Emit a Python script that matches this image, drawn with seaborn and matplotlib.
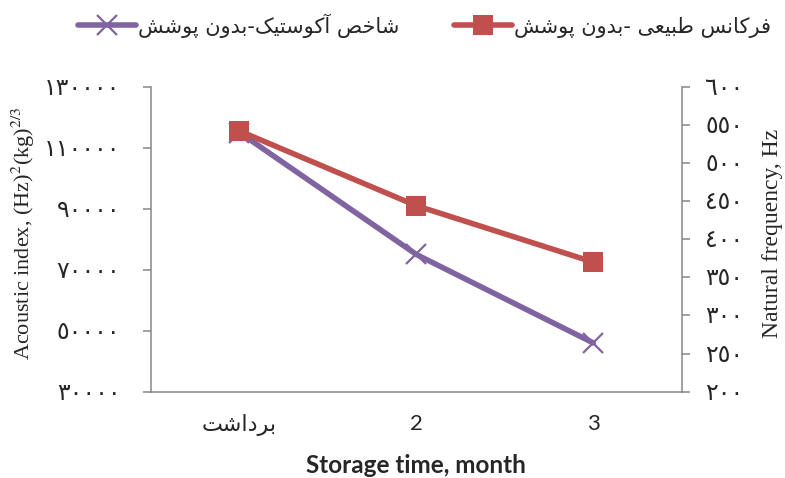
import matplotlib
matplotlib.use("Agg")
import matplotlib.pyplot as plt
from matplotlib.lines import Line2D
import numpy as np
import pandas as pd
import seaborn as sns

# ---- data -------------------------------------------------------------
time_labels = ["برداشت", "2", "3"]
acoustic_index = [115000, 75000, 46000]          # left axis
natural_freq = [542, 444, 370]                   # right axis, Hz
series_names = ["شاخص آکوستیک-بدون پوشش", "فرکانس طبیعی -بدون پوشش"]
left_ticks = [30000, 50000, 70000, 90000, 110000, 130000]
right_ticks = [200, 250, 300, 350, 400, 450, 500, 550, 600]

# ---- minimal Arabic/Persian shaping (matplotlib draws glyphs LTR, unshaped)
# (isolated, final, initial, medial); None = letter does not join forward
FORMS = {
    "ا": ("\uFE8D", "\uFE8E", None, None),
    "آ": ("\uFE81", "\uFE82", None, None),
    "ب": ("\uFE8F", "\uFE90", "\uFE91", "\uFE92"),
    "پ": ("\uFB56", "\uFB57", "\uFB58", "\uFB59"),
    "ت": ("\uFE95", "\uFE96", "\uFE97", "\uFE98"),
    "خ": ("\uFEA5", "\uFEA6", "\uFEA7", "\uFEA8"),
    "د": ("\uFEA9", "\uFEAA", None, None),
    "ر": ("\uFEAD", "\uFEAE", None, None),
    "س": ("\uFEB1", "\uFEB2", "\uFEB3", "\uFEB4"),
    "ش": ("\uFEB5", "\uFEB6", "\uFEB7", "\uFEB8"),
    "ص": ("\uFEB9", "\uFEBA", "\uFEBB", "\uFEBC"),
    "ط": ("\uFEC1", "\uFEC2", "\uFEC3", "\uFEC4"),
    "ع": ("\uFEC9", "\uFECA", "\uFECB", "\uFECC"),
    "ف": ("\uFED1", "\uFED2", "\uFED3", "\uFED4"),
    "ک": ("\uFB8E", "\uFB8F", "\uFB90", "\uFB91"),
    "ن": ("\uFEE5", "\uFEE6", "\uFEE7", "\uFEE8"),
    "و": ("\uFEED", "\uFEEE", None, None),
    "ی": ("\uFBFC", "\uFBFD", "\uFBFE", "\uFBFF"),
}


def shape_rtl(text):
    chars = list(text)
    out = []
    for i, c in enumerate(chars):
        if c not in FORMS:
            out.append(c)
            continue
        iso, fin, ini, med = FORMS[c]
        prev = chars[i - 1] if i > 0 else None
        nxt = chars[i + 1] if i + 1 < len(chars) else None
        join_prev = prev in FORMS and FORMS[prev][2] is not None
        join_next = nxt in FORMS and ini is not None
        if join_prev and join_next:
            out.append(med)
        elif join_prev:
            out.append(fin)
        elif join_next:
            out.append(ini)
        else:
            out.append(iso)
    return "".join(reversed(out))


def arabic_digits(v):
    return str(v).translate(str.maketrans("0123456789", "٠١٢٣٤٥٦٧٨٩"))


# ---- style ------------------------------------------------------------
sns.set_theme(style="white")
plt.rcParams["font.family"] = ["Liberation Serif", "DejaVu Sans"]
plt.rcParams["mathtext.fontset"] = "stix"

PURPLE = "#8064A2"
RED = "#C0504D"
GREY = "#868686"

df = pd.DataFrame({
    "pos": np.arange(len(time_labels)),
    "acoustic": acoustic_index,
    "freq": natural_freq,
})

fig = plt.figure(figsize=(7.85, 4.78), dpi=100)
ax = fig.add_axes([0.1924, 0.1805, 0.676, 0.638])
ax2 = ax.twinx()

sns.lineplot(data=df, x="pos", y="acoustic", ax=ax, color=PURPLE, lw=4.0,
             marker="x", markersize=14, markeredgewidth=1.6,
             markeredgecolor=PURPLE, legend=False)
sns.lineplot(data=df, x="pos", y="freq", ax=ax2, color=RED, lw=4.0,
             marker="s", markersize=14.5, markeredgewidth=0,
             legend=False)

# axes limits and ticks
ax.set_xlim(-0.5, len(time_labels) - 0.5)
ax.set_ylim(left_ticks[0], left_ticks[-1])
ax2.set_ylim(right_ticks[0], right_ticks[-1])

ax.set_xticks(np.arange(-0.5, len(time_labels)), labels=[""] * (len(time_labels) + 1))
ax.set_xticks(np.arange(len(time_labels)), minor=True)
ax.set_xticklabels([shape_rtl(time_labels[0])] + time_labels[1:], minor=True)
ax.tick_params(axis="x", which="minor", length=0, pad=16, labelsize=16)
ax.tick_params(axis="x", which="major", length=6, width=1.1, color=GREY, direction="out")
for lab in ax.get_xticklabels(minor=True):
    lab.set_fontfamily(["Lato", "DejaVu Sans"])

ax.set_yticks(left_ticks, labels=[arabic_digits(v) for v in left_ticks])
ax2.set_yticks(right_ticks, labels=[arabic_digits(v) for v in right_ticks])
ax.tick_params(axis="y", length=6, width=1.1, color=GREY, direction="out",
               pad=16, labelsize=17, left=True)
ax2.tick_params(axis="y", length=6, width=1.1, color=GREY, direction="out",
                pad=11, labelsize=17, right=True)

for a in (ax, ax2):
    a.spines["top"].set_visible(False)
    for s in ("left", "right", "bottom"):
        a.spines[s].set_color(GREY)
        a.spines[s].set_linewidth(1.1)
    a.grid(False)
ax2.spines["left"].set_visible(False)
ax2.spines["bottom"].set_visible(False)
ax.spines["right"].set_visible(False)

# axis titles
ax.set_xlabel("Storage time, month", fontsize=17.5, fontweight="bold",
              family=["Lato", "DejaVu Sans"])
ax.xaxis.set_label_coords(0.5, -0.204)
ax.set_ylabel(r"Acoustic index, (Hz)$^{2}$(kg)$^{2/3}$", fontsize=16,
              rotation=90, va="center", ha="center")
ax.yaxis.set_label_coords(-0.240, 0.52)
ax2.set_ylabel("Natural frequency, Hz", fontsize=17, rotation=90,
               va="center", ha="center")
ax2.yaxis.set_label_coords(1.172, 0.52)

# legend across the top
handles = [
    Line2D([], [], color=PURPLE, lw=4.0, marker="x", markersize=14,
           markeredgewidth=1.6),
    Line2D([], [], color=RED, lw=4.0, marker="s", markersize=14.5,
           markeredgewidth=0),
]
fig.legend(handles, [shape_rtl(n) for n in series_names], ncol=2,
           loc="center", bbox_to_anchor=(0.541, 0.947), frameon=False,
           handlelength=2.8, handletextpad=0.1, columnspacing=2.6,
           prop={"family": ["DejaVu Sans"], "size": 15})

fig.savefig("out.png", dpi=100, facecolor="white")
